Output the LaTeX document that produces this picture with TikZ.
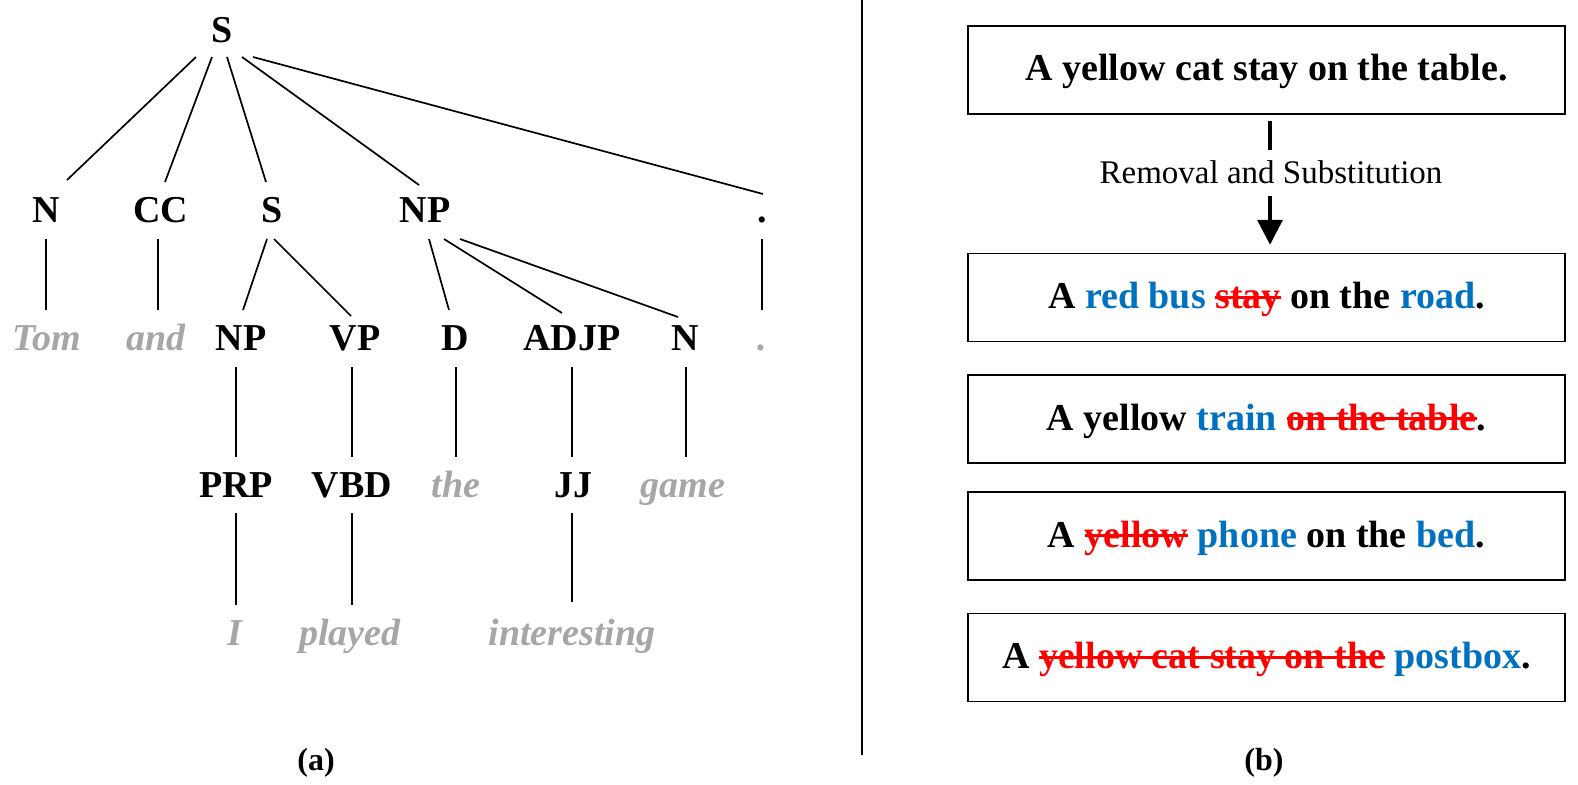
\documentclass[tikz,border=0pt]{standalone}
\usepackage{fontspec}
\setmainfont{Liberation Serif}
\usetikzlibrary{calc,arrows.meta}
\definecolor{wgray}{RGB}{166,166,166}
\definecolor{wblue}{RGB}{0,112,192}
\definecolor{wred}{RGB}{255,0,0}
\newlength{\strikelen}
\newcommand{\delw}[1]{\settowidth{\strikelen}{#1}{\color{wred}\rlap{\rule[0.55ex]{\strikelen}{3pt}}#1}}
\newcommand{\subw}[1]{{\color{wblue}#1}}
\begin{document}
\begin{tikzpicture}[x=1pt,y=-1pt,
  treetag/.style={inner sep=0pt, anchor=base, font=\fontsize{38}{40}\selectfont\bfseries},
  treeword/.style={inner sep=0pt, anchor=base, text=wgray, font=\fontsize{38}{40}\selectfont\bfseries\itshape},
  treeline/.style={line width=1.7pt},
  sentbox/.style={draw, line width=1.5pt, minimum width=597pt, minimum height=88pt, inner sep=0pt, text height=27pt, text depth=5pt, font=\fontsize{38}{40}\selectfont\bfseries},
  sublabel/.style={inner sep=0pt, anchor=base, font=\fontsize{32}{34}\selectfont\bfseries}]
\useasboundingbox (0,0) rectangle (1578,784);

% ---- tree (a) ----
\node[treetag] (S0) at (222,42) {S};
\node[treetag] (N1) at (46,222) {N};
\node[treetag] (CC1) at (161,222) {CC};
\node[treetag] (S1) at (272,222) {S};
\node[treetag] (NP1) at (425,222) {NP};
\node[treetag] (P1) at (762,222) {.};
\node[treeword] (Tom) at (47,350) {Tom};
\node[treeword] (and) at (156,350) {and};
\node[treetag] (NP2) at (241,350) {NP};
\node[treetag] (VP2) at (355,350) {VP};
\node[treetag] (D2) at (455,350) {D};
\node[treetag] (ADJP2) at (572,350) {ADJP};
\node[treetag] (N2) at (685,350) {N};
\node[treeword] (P2) at (762,350) {.};
\node[treetag] (PRP) at (236,497) {PRP};
\node[treetag] (VBD) at (352,497) {VBD};
\node[treeword] (the) at (456,497) {the};
\node[treetag] (JJ) at (573,497) {JJ};
\node[treeword] (game) at (683,497) {game};
\node[treeword] (I) at (235,645) {I};
\node[treeword] (played) at (350,645) {played};
\node[treeword] (inter) at (572,645) {interesting};

\draw[treeline] ($(S0.base)+(-26,15)$) -- ($(N1.base)+(21,-42)$);
\draw[treeline] ($(S0.base)+(-10,15)$) -- ($(CC1.base)+(4,-40)$);
\draw[treeline] ($(S0.base)+(5,15)$) -- ($(S1.base)+(-6,-40)$);
\draw[treeline] ($(S0.base)+(20,15)$) -- ($(NP1.base)+(-6,-37)$);
\draw[treeline] ($(S0.base)+(31,15)$) -- ($(P1.base)+(1,-28)$);

\draw[treeline] ($(N1.base)+(0,17)$) -- ($(Tom.base)+(-1,-40)$);
\draw[treeline] ($(CC1.base)+(-3,17)$) -- ($(and.base)+(2,-40)$);
\draw[treeline] ($(P1.base)+(0,17)$) -- ($(P2.base)+(0,-40)$);
\draw[treeline] ($(S1.base)+(-5,17)$) -- ($(NP2.base)+(2,-40)$);
\draw[treeline] ($(S1.base)+(2,17)$) -- ($(VP2.base)+(-4,-34)$);
\draw[treeline] ($(NP1.base)+(4,17)$) -- ($(D2.base)+(-6,-40)$);
\draw[treeline] ($(NP1.base)+(19,17)$) -- ($(ADJP2.base)+(-10,-37)$);
\draw[treeline] ($(NP1.base)+(35,17)$) -- ($(N2.base)+(-7,-33)$);

\draw[treeline] ($(NP2.base)+(-5,17)$) -- ($(PRP.base)+(0,-40)$);
\draw[treeline] ($(VP2.base)+(-3,17)$) -- ($(VBD.base)+(0,-40)$);
\draw[treeline] ($(D2.base)+(1,17)$) -- ($(the.base)+(0,-40)$);
\draw[treeline] ($(ADJP2.base)+(0,17)$) -- ($(JJ.base)+(-1,-40)$);
\draw[treeline] ($(N2.base)+(1,17)$) -- ($(game.base)+(3,-40)$);

\draw[treeline] ($(PRP.base)+(0,16)$) -- ($(I.base)+(1,-40)$);
\draw[treeline] ($(VBD.base)+(0,16)$) -- ($(played.base)+(2,-40)$);
\draw[treeline] ($(JJ.base)+(-1,16)$) -- ($(inter.base)+(0,-43)$);

\node[sublabel] (la) at (316,770) {(a)};

% ---- divider ----
\draw[line width=1.8pt] (862,0) -- (862,755);

% ---- sentences (b) ----
\node[sentbox] (b1) at (1266.5,70) {A yellow cat stay on the table.};
\node[sentbox] (b2) at (1266.5,297.5) {A \subw{red bus} \delw{stay} on the \subw{road}.};
\node[sentbox] (b3) at (1266.5,419) {A yellow \subw{train} \delw{on the table}.};
\node[sentbox] (b4) at (1266.5,536) {A \delw{yellow} \subw{phone} on the \subw{bed}.};
\node[sentbox] (b5) at (1266.5,657.5) {A \delw{yellow cat stay on the} \subw{postbox}.};

\node[inner sep=0pt, anchor=base, font=\fontsize{33}{36}\selectfont] (lab) at (1271,183) {Removal and Substitution};
\draw[line width=3.6pt] ($(b1.south)+(3.5,6)$) -- ($(lab.base)+(-1,-33)$);
\draw[line width=3.6pt, -{Triangle[width=25pt,length=25pt]}] ($(lab.base)+(-1,13)$) -- ($(b2.north)+(3.5,-8)$);

\node[sublabel] (lb) at (1264,770) {(b)};
\end{tikzpicture}
\end{document}
